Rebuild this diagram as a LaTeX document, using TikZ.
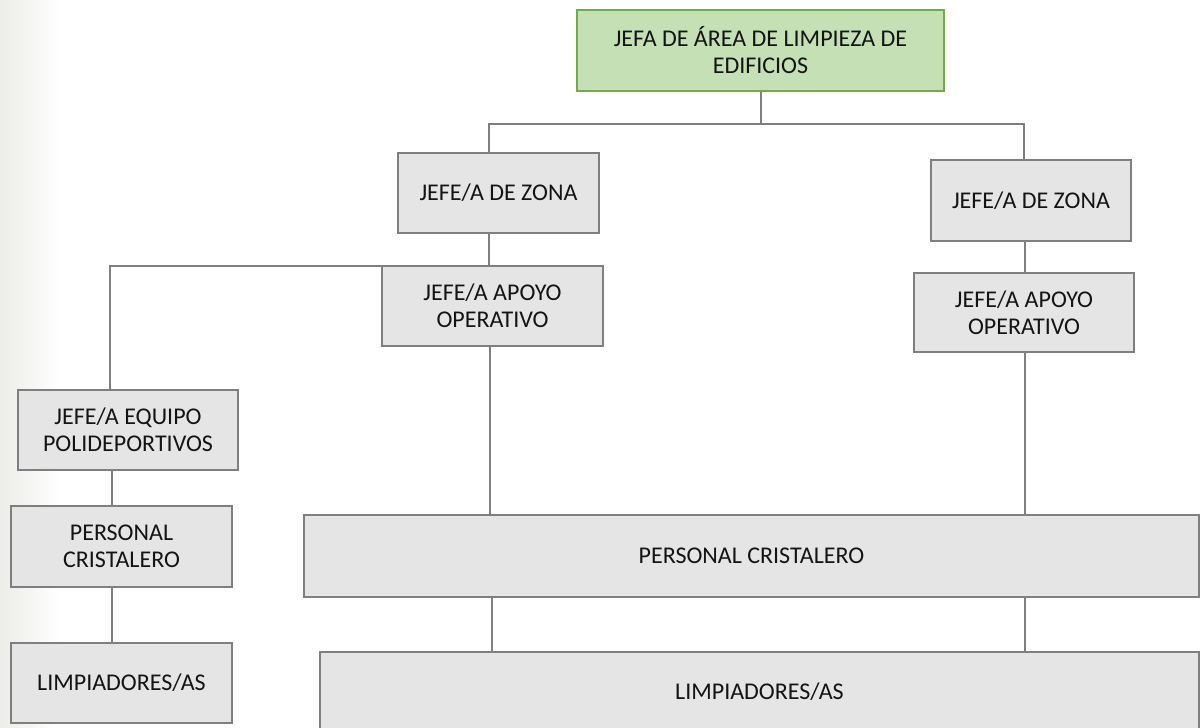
\documentclass[tikz,border=0pt]{standalone}
\usepackage{fontspec}
\setmainfont{Carlito}
\begin{document}
\begin{tikzpicture}[x=0.5pt,y=-0.5pt,
  every node/.style={font=\fontsize{12}{13.5}\selectfont, text=black!92, align=center, inner sep=0pt}
]
\definecolor{bxfill}{HTML}{E5E5E5}
\definecolor{bxline}{HTML}{7F7F7F}
\definecolor{gfill}{HTML}{C5E0B4}
\definecolor{gline}{HTML}{70AD47}
\definecolor{edgebg}{HTML}{ECEDE8}
\tikzset{
  box/.style={draw=bxline, line width=1pt, fill=bxfill, rectangle},
  topbox/.style={draw=gline, line width=1pt, fill=gfill, rectangle},
  conn/.style={draw=bxline, line width=1pt}
}
\useasboundingbox (0,0) rectangle (1200,728);
\clip (0,0) rectangle (1200,728);
\shade[left color=edgebg, right color=white] (0,0) rectangle (60,728);

\node[topbox, minimum width=183.5pt, minimum height=40.5pt] (top) at (760.5,50.5) {JEFA DE ÁREA DE LIMPIEZA DE\\EDIFICIOS};
\node[box, minimum width=100.5pt, minimum height=40pt] (zoneL) at (498.5,193) {JEFE/A DE ZONA};
\node[box, minimum width=100pt, minimum height=40.5pt] (zoneR) at (1031,200.5) {JEFE/A DE ZONA};
\node[box, minimum width=110.5pt, minimum height=40pt] (apoyoL) at (492.5,306) {JEFE/A APOYO\\OPERATIVO};
\node[box, minimum width=110pt, minimum height=39.5pt] (apoyoR) at (1024,312.5) {JEFE/A APOYO\\OPERATIVO};
\node[box, minimum width=110pt, minimum height=40pt] (equipo) at (128,430) {JEFE/A EQUIPO\\POLIDEPORTIVOS};
\node[box, minimum width=110.5pt, minimum height=40.5pt] (cristL) at (121.5,546.5) {PERSONAL\\CRISTALERO};
\node[box, minimum width=110.5pt, minimum height=40pt] (limpL) at (121.5,683) {LIMPIADORES/AS};
\node[box, minimum width=447.5pt, minimum height=41pt] (cristB) at (751.5,556) {PERSONAL CRISTALERO};
\node[box, minimum width=439.5pt, minimum height=40pt] (limpB) at (759.5,692) {LIMPIADORES/AS};

\coordinate (b1L) at (489,124);
\coordinate (b1R) at (1024,124);
\coordinate (b2) at (489,266);
\coordinate (b2L) at (110,266);
\coordinate (vL) at (112,0);
\coordinate (vA) at (490,0);
\coordinate (vR) at (1025,0);
\coordinate (vB) at (492,0);

\draw[conn] (top.south) -- (top.south |- b1L);
\draw[conn] (zoneL.north -| b1L) -- (b1L) -- (b1R) -- (zoneR.north -| b1R);
\draw[conn] (zoneL.south -| b2) -- (b2) -- (b2L) -- (equipo.north -| b2L);
\draw[conn] (equipo.south -| vL) -- (cristL.north -| vL);
\draw[conn] (cristL.south -| vL) -- (limpL.north -| vL);
\draw[conn] (apoyoL.south -| vA) -- (cristB.north -| vA);
\draw[conn] (zoneR.south -| vR) -- (apoyoR.north -| vR);
\draw[conn] (apoyoR.south -| vR) -- (cristB.north -| vR);
\draw[conn] (cristB.south -| vB) -- (limpB.north -| vB);
\draw[conn] (cristB.south -| vR) -- (limpB.north -| vR);
\end{tikzpicture}
\end{document}
